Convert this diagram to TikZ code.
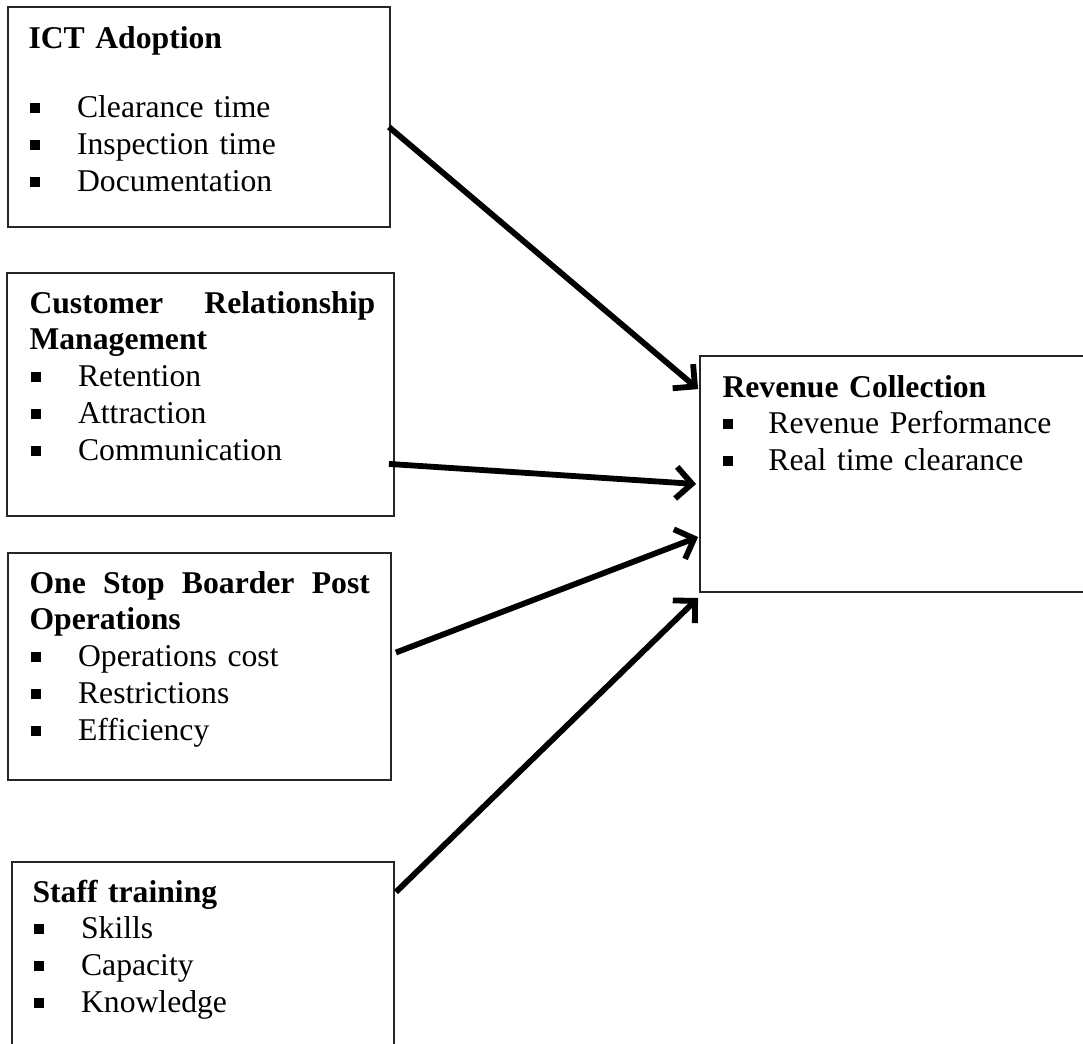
\documentclass[tikz,border=0pt]{standalone}
\usepackage{fontspec}
\setmainfont{Liberation Serif}
\usepackage{tikz}
\usetikzlibrary{arrows.meta,calc,fit}

\newcommand{\bul}{\makebox[18.4pt][l]{\hspace{0.7pt}\rule[1.7pt]{3.8pt}{3.8pt}}}
\tikzset{
  box/.style={draw=black!85, line width=0.7pt, inner sep=0pt},
  txt/.style={anchor=base west, inner sep=0pt, align=left, text width=131pt,
    font=\fontsize{12}{14}\selectfont},
  link/.style={line width=2.2pt, -{Straight Barb[length=6pt,width=12pt,line width=2.2pt]}}
}

\begin{document}
\begin{tikzpicture}[x=0.379pt, y=-0.379pt]
\useasboundingbox (0,0) rectangle (1083,1043);
\node[box, fit={(8,7) (390,227)}] (ict) {};
\node[box, fit={(7,273) (394,516)}] (crm) {};
\node[box, fit={(8,553) (391,780)}] (osbp) {};
\node[box, fit={(12,862) (394,1060)}] (staff) {};
\node[box, fit={(700,356) (1100,592)}] (rev) {};
\node[txt] (ictt) at (28,48) {\textbf{ICT Adoption}\\[12.5pt]
\bul Clearance time\\
\bul Inspection time\\
\bul Documentation};
\node[txt] (crmt) at (29,313) {\textbf{Customer\hfill Relationship}\\
\textbf{Management}\\
\bul Retention\\
\bul Attraction\\
\bul Communication};
\node[txt, text width=129pt] (osbpt) at (29,593) {\textbf{One\hfill Stop\hfill Boarder\hfill Post}\\
\textbf{Operations}\\
\bul Operations cost\\
\bul Restrictions\\
\bul Efficiency};
\node[txt] (stafft) at (32,902) {\textbf{Staff training}\\
\bul Skills\\
\bul Capacity\\
\bul Knowledge};
\node[txt, text width=140pt] (revt) at (722,397) {\textbf{Revenue Collection}\\
\makebox[17.4pt][l]{\rule[1.7pt]{3.8pt}{3.8pt}}Revenue Performance\\
\makebox[17.4pt][l]{\rule[1.7pt]{3.8pt}{3.8pt}}Real time clearance};
\draw[link] ($(ict.east)+(-2,10)$) -- ($(rev.north west)+(-1,34)$);
\draw[link] ($(crm.south east)+(-6,-53)$) -- ($(rev.west)+(-3,10)$);
\draw[link] ($(osbp.east)+(4,-14)$) -- ($(rev.west)+(-1,63)$);
\draw[link] ($(staff.north east)+(1,31)$) -- ($(rev.south west)+(-1,5)$);
\end{tikzpicture}
\end{document}
